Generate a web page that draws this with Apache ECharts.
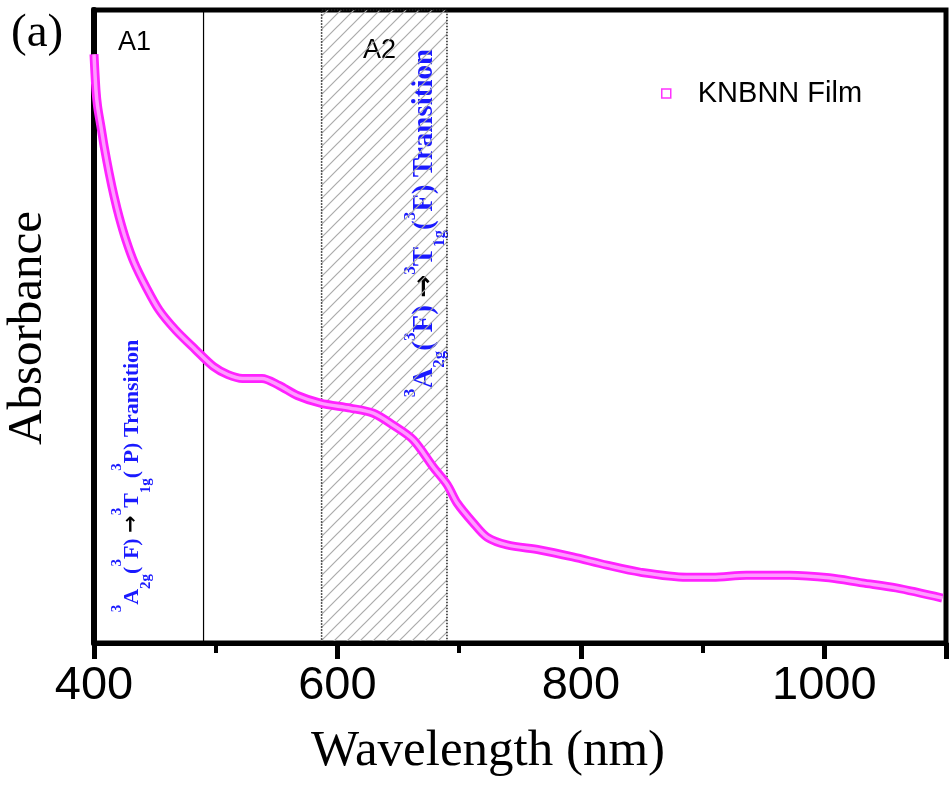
<!DOCTYPE html>
<html>
<head>
<meta charset="utf-8">
<script src="https://cdn.jsdelivr.net/npm/echarts@6/dist/echarts.min.js"></script>
<style>
html,body{margin:0;padding:0;background:#fff;}
#chart{width:949px;height:785px;}
</style>
</head>
<body>
<div id="chart"></div>
<script>
// ---- data ----
const wavelength = [400, 401.6, 403, 405.7, 408.4, 412.5, 416.6, 420.7, 426.2, 433, 442.6, 453.5, 467.2, 483.6, 498, 510, 522, 538, 552, 567, 586, 610.7, 629.5, 645.9, 662.3, 678.7, 690.2, 698.4, 711.5, 723, 739.3, 766.4, 793.4, 821.3, 848.4, 886.9, 908.2, 936, 971.3, 1004, 1031, 1059, 1097];
const absorbance = [0.93, 0.874, 0.847, 0.816, 0.784, 0.742, 0.705, 0.673, 0.637, 0.601, 0.563, 0.526, 0.494, 0.463, 0.437, 0.424, 0.418, 0.418, 0.407, 0.391, 0.379, 0.371, 0.363, 0.344, 0.321, 0.278, 0.250, 0.221, 0.190, 0.167, 0.155, 0.147, 0.136, 0.123, 0.112, 0.104, 0.104, 0.107, 0.107, 0.103, 0.095, 0.087, 0.071];
const seriesName = 'KNBNN Film';
const xTicks = [400, 600, 800, 1000];
const regionA1 = [400, 490];
const regionA2 = [587, 690];
const regionLabels = ['A1', 'A2'];
const xTitle = 'Wavelength (nm)';
const yTitle = 'Absorbance';
const panelLabel = '(a)';

const points = wavelength.map((w, i) => [w, absorbance[i]]);

// hatch pattern for region A2
const tile = document.createElement('canvas');
tile.width = 13; tile.height = 13;
const tc = tile.getContext('2d');
tc.strokeStyle = '#ababab';
tc.lineWidth = 1.2;
tc.beginPath();
tc.moveTo(0, 13); tc.lineTo(13, 0);
tc.moveTo(-2, 2); tc.lineTo(2, -2);
tc.moveTo(11, 15); tc.lineTo(15, 11);
tc.stroke();

const chart = echarts.init(document.getElementById('chart'), null, {renderer: 'canvas'});

const blue = '#1a1aff';
function richStyles(main, sup, lh) {
  return {
    m: {fontFamily: 'Liberation Serif', fontWeight: 'bold', fontSize: main, fill: blue, lineHeight: lh},
    sup: {fontFamily: 'Liberation Serif', fontWeight: 'bold', fontSize: sup, fill: blue, verticalAlign: 'top', lineHeight: sup},
    sub: {fontFamily: 'Liberation Serif', fontWeight: 'bold', fontSize: sup, fill: blue, verticalAlign: 'bottom', lineHeight: sup},
    arr: {fontFamily: 'DejaVu Sans', fontWeight: 'bold', fontSize: main * 0.95, fill: '#000', lineHeight: lh}
  };
}

const option = {
  backgroundColor: '#fff',
  animation: false,
  grid: {left: 94, top: 10, width: 852, height: 633, show: true, borderColor: '#000', borderWidth: 5, backgroundColor: 'transparent'},
  legend: {
    left: 656, top: 74,
    data: [{name: seriesName, icon: 'rect', itemStyle: {color: '#fff', borderColor: '#ff33ff', borderWidth: 1.5}}],
    itemWidth: 9, itemHeight: 9,
    lineStyle: {opacity: 0, width: 0},
    textStyle: {fontFamily: 'Liberation Sans', fontSize: 29, color: '#000', padding: [0, 0, 0, 22]}
  },
  xAxis: [
    {
      type: 'value', min: 400, max: 1100, interval: 200,
      axisLine: {lineStyle: {color: '#000', width: 5}},
      axisTick: {length: 16, lineStyle: {color: '#000', width: 5}},
      splitLine: {show: false},
      axisLabel: {
        margin: 20, fontFamily: 'Liberation Sans', fontSize: 47, color: '#000',
        formatter: v => (xTicks.indexOf(v) >= 0 ? String(v) : '')
      },
      z: 5
    },
    {
      type: 'value', min: 400, max: 1100, interval: 100, position: 'bottom',
      axisLine: {show: false},
      axisTick: {show: true, length: 10, lineStyle: {color: '#000', width: 4}},
      axisLabel: {show: false},
      splitLine: {show: false}
    }
  ],
  yAxis: {
    type: 'value', min: 0, max: 1,
    axisLine: {show: true, lineStyle: {color: '#000', width: 6}},
    axisTick: {show: false}, axisLabel: {show: false}, splitLine: {show: false}
  },
  series: [
    {
      name: seriesName, type: 'line', data: points, smooth: 0.3, showSymbol: false,
      symbol: 'rect',
      lineStyle: {color: '#ff22ff', width: 9},
      itemStyle: {color: '#fff', borderColor: '#ff33ff'},
      z: 3,
      markArea: {
        silent: true,
        data: [
          [{xAxis: regionA1[0], itemStyle: {color: 'rgba(0,0,0,0)', borderColor: '#000', borderWidth: 1.2}}, {xAxis: regionA1[1]}],
          [{xAxis: regionA2[0], itemStyle: {color: {image: tile, repeat: 'repeat'}, borderColor: '#222', borderWidth: 1.5, borderType: 'dotted'}}, {xAxis: regionA2[1]}]
        ]
      }
    },
    {
      name: 'inner', type: 'line', data: points, smooth: 0.3, showSymbol: false,
      lineStyle: {color: '#ff9cff', width: 3.5}, z: 4, silent: true
    }
  ],
  graphic: [
    {type: 'text', left: 11, top: 10, style: {text: panelLabel, font: '47px "Liberation Serif"', fill: '#000'}},
    {type: 'text', x: 118, y: 43, style: {text: regionLabels[0], font: '27px "Liberation Sans"', fill: '#000', textAlign: 'left', textVerticalAlign: 'middle'}},
    {type: 'text', x: 363, y: 51, style: {text: regionLabels[1], font: '27px "Liberation Sans"', fill: '#000', textAlign: 'left', textVerticalAlign: 'middle'}},
    {type: 'text', x: 488, y: 752, style: {text: xTitle, font: '51px "Liberation Serif"', fill: '#000', textAlign: 'center', textVerticalAlign: 'middle'}},
    {type: 'text', x: 28, y: 328, rotation: Math.PI / 2, style: {text: yTitle, font: '49px "Liberation Serif"', fill: '#000', textAlign: 'center', textVerticalAlign: 'middle'}},
    {
      type: 'text', x: 425, y: 223, rotation: Math.PI / 2,
      style: {
        text: '{sup|3}{m|A}{sub|2g}{m|(}{sup|3}{m|F) }{arr|\u2192}{sup|3}{m|T}{sub|1g}{m|(}{sup|3}{m|F) Transition}',
        rich: richStyles(29, 17, 46),
        textAlign: 'center', textVerticalAlign: 'middle'
      }
    },
    {
      type: 'text', x: 132, y: 476, rotation: Math.PI / 2,
      style: {
        text: '{sup|3}{m|A}{sub|2g}{m|(}{sup|3}{m|F) }{arr|\u2192}{sup|3}{m|T}{sub|1g}{m|(}{sup|3}{m|P) Transition}',
        rich: richStyles(22, 15, 44),
        textAlign: 'center', textVerticalAlign: 'middle'
      }
    }
  ]
};
chart.setOption(option);
</script>
</body>
</html>
